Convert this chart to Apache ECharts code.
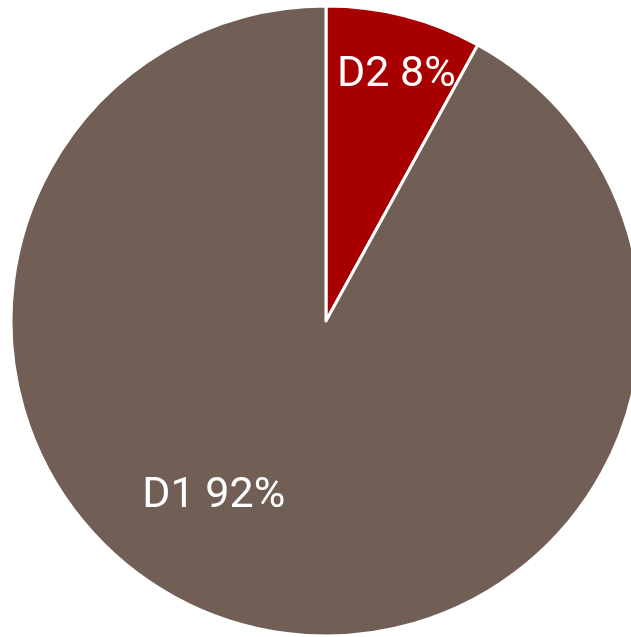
<!DOCTYPE html>
<html>
<head>
<meta charset="utf-8">
<script src="https://cdn.jsdelivr.net/npm/echarts@6/dist/echarts.min.js"></script>
<style>
  html, body { margin: 0; padding: 0; background: #fff; }
  #show_picture { width: 631px; height: 637px; }
</style>
</head>
<body>
<div id="show_picture"></div>
<script>
    // slice data, D2 first so it starts at 12 o'clock
    const names = ['D2', 'D1'];
    const values = [8, 92];
    const colors = ['#A80000', '#715F56'];

    // label placement (fraction of radius, angle clockwise from top)
    const labelPos = [[0.81, 16], [0.66, 212.7]];

    const cx = 326, cy = 321, R = 315;

    let myChart = echarts.init(document.getElementById('show_picture'));

    let d = [];
    for (let i = 0; i < names.length; i++) {
        d.push({ name: names[i], value: values[i], itemStyle: { color: colors[i] } });
    }

    let option = {
        animation: false,
        series: {
            type: 'pie',
            center: [cx, cy],
            radius: [0, R],
            startAngle: 90,
            clockwise: true,
            data: d,
            itemStyle: { borderColor: '#fff', borderWidth: 3 },
            label: {
                show: true,
                position: 'inside',
                formatter: (p) => p.name + ' ' + p.value + '%',
                color: '#fff',
                fontFamily: 'Roboto',
                fontSize: 43
            },
            labelLine: { show: false },
            labelLayout: function (params) {
                let lp = labelPos[params.dataIndex];
                let a = lp[1] * Math.PI / 180;
                return {
                    x: cx + Math.sin(a) * lp[0] * R,
                    y: cy - Math.cos(a) * lp[0] * R,
                    align: 'center',
                    verticalAlign: 'middle'
                };
            }
        }
    };

    option && myChart.setOption(option);
</script>
</body>
</html>
